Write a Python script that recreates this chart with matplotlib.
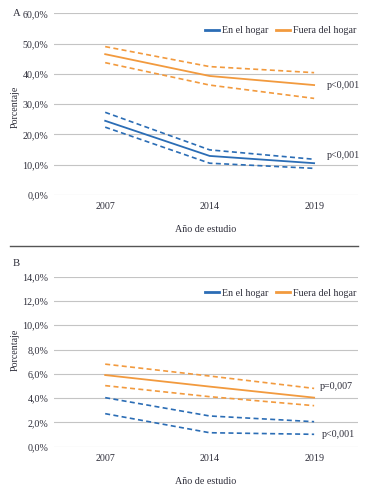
import matplotlib
matplotlib.use("Agg")
import matplotlib.pyplot as plt
import numpy as np

plt.rcParams['font.family'] = ['Liberation Serif', 'DejaVu Serif']

years = ["2007", "2014", "2019"]

# Panel A
a_hogar = [24.5, 12.9, 10.5]
a_hogar_hi = [27.3, 14.9, 11.8]
a_hogar_lo = [22.4, 10.5, 8.8]
a_fuera = [46.5, 39.3, 36.3]
a_fuera_hi = [49.0, 42.4, 40.4]
a_fuera_lo = [43.7, 36.3, 31.9]
a_yticks = [0, 10, 20, 30, 40, 50, 60]
a_p = ["p<0,001", "p<0,001"]

# Panel B (central line for "En el hogar" is not drawn in the original)
b_hogar_hi = [4.04, 2.53, 2.06]
b_hogar_lo = [2.72, 1.15, 1.02]
b_fuera = [5.9, 4.95, 4.04]
b_fuera_hi = [6.8, 5.82, 4.8]
b_fuera_lo = [5.03, 4.12, 3.38]
b_yticks = [0, 2, 4, 6, 8, 10, 12, 14]
b_p = ["p=0,007", "p<0,001"]

BLUE = "#2b6db5"
ORANGE = "#f29a3e"
TXT = "#2e2e3a"
GRID = "#c4c4c4"
FS = 7.2

W, H = 368, 487
fig = plt.figure(figsize=(W / 100, H / 100), dpi=100)

def ax_rect(top_px, bottom_px, left_px=54, right_px=358):
    return [left_px / W, 1 - bottom_px / H, (right_px - left_px) / W, (bottom_px - top_px) / H]

def style(ax, yticks):
    x = np.arange(len(years))
    ax.set_xlim(-0.49, 2.42)
    ax.set_ylim(yticks[0], yticks[-1])
    ax.set_yticks(yticks)
    ax.set_yticklabels([f"{v:.1f}%".replace(".", ",") for v in yticks])
    ax.set_xticks(x)
    ax.set_xticklabels(years)
    for s in ax.spines.values():
        s.set_visible(False)
    ax.grid(axis='y', color=GRID, lw=0.8)
    ax.set_axisbelow(True)
    ax.tick_params(length=0, labelsize=FS, colors=TXT, pad=4)
    ax.tick_params(axis='x', pad=5)
    return x

dash = (0, (3, 2))

def legend(ax):
    leg = ax.legend(loc='upper right', bbox_to_anchor=(0.995, 0.93), ncol=2, frameon=False,
                    fontsize=FS, handlelength=1.4, handletextpad=0.3, columnspacing=0.8,
                    borderaxespad=0, borderpad=0)
    for t in leg.get_texts():
        t.set_color(TXT)
    for l in leg.get_lines():
        l.set_linewidth(2)

# Panel A
axA = fig.add_axes(ax_rect(13.3, 195))
x = style(axA, a_yticks)
axA.plot(x, a_hogar, color=BLUE, lw=1.3, label="En el hogar")
axA.plot(x, a_fuera, color=ORANGE, lw=1.3, label="Fuera del hogar")
for d, c in [(a_hogar_hi, BLUE), (a_hogar_lo, BLUE), (a_fuera_hi, ORANGE), (a_fuera_lo, ORANGE)]:
    axA.plot(x, d, color=c, lw=1.2, ls=dash)
axA.text(2.12, 36.0, a_p[0], fontsize=FS, color=TXT, va='center', ha='left')
axA.text(2.12, 13.0, a_p[1], fontsize=FS, color=TXT, va='center', ha='left')
legend(axA)
axA.set_xlabel("Año de estudio", fontsize=FS, color=TXT, labelpad=10)
fig.text(13 / W, 1 - 13 / H, "A", fontsize=FS + 0.5, color=TXT, ha='left', va='center')
fig.text(15 / W, 1 - 107 / H, "Porcentaje", fontsize=FS, color=TXT, rotation=90,
         ha='center', va='center')

# separator
fig.add_artist(plt.Line2D([10 / W, 358 / W], [1 - 246 / H, 1 - 246 / H],
                          color="#555555", lw=1.0))

# Panel B
axB = fig.add_axes(ax_rect(276.7, 446.7))
x = style(axB, b_yticks)
axB.plot([], [], color=BLUE, lw=1.3, label="En el hogar")
axB.plot(x, b_fuera, color=ORANGE, lw=1.3, label="Fuera del hogar")
for d, c in [(b_hogar_hi, BLUE), (b_hogar_lo, BLUE), (b_fuera_hi, ORANGE), (b_fuera_lo, ORANGE)]:
    axB.plot(x, d, color=c, lw=1.2, ls=dash)
axB.text(2.05, 4.95, b_p[0], fontsize=FS, color=TXT, va='center', ha='left')
axB.text(2.07, 1.0, b_p[1], fontsize=FS, color=TXT, va='center', ha='left')
legend(axB)
axB.set_xlabel("Año de estudio", fontsize=FS, color=TXT, labelpad=10)
fig.text(13 / W, 1 - 264 / H, "B", fontsize=FS + 0.5, color=TXT, ha='left', va='center')
fig.text(15 / W, 1 - 350 / H, "Porcentaje", fontsize=FS, color=TXT, rotation=90,
         ha='center', va='center')

fig.savefig("out.png", dpi=100)
